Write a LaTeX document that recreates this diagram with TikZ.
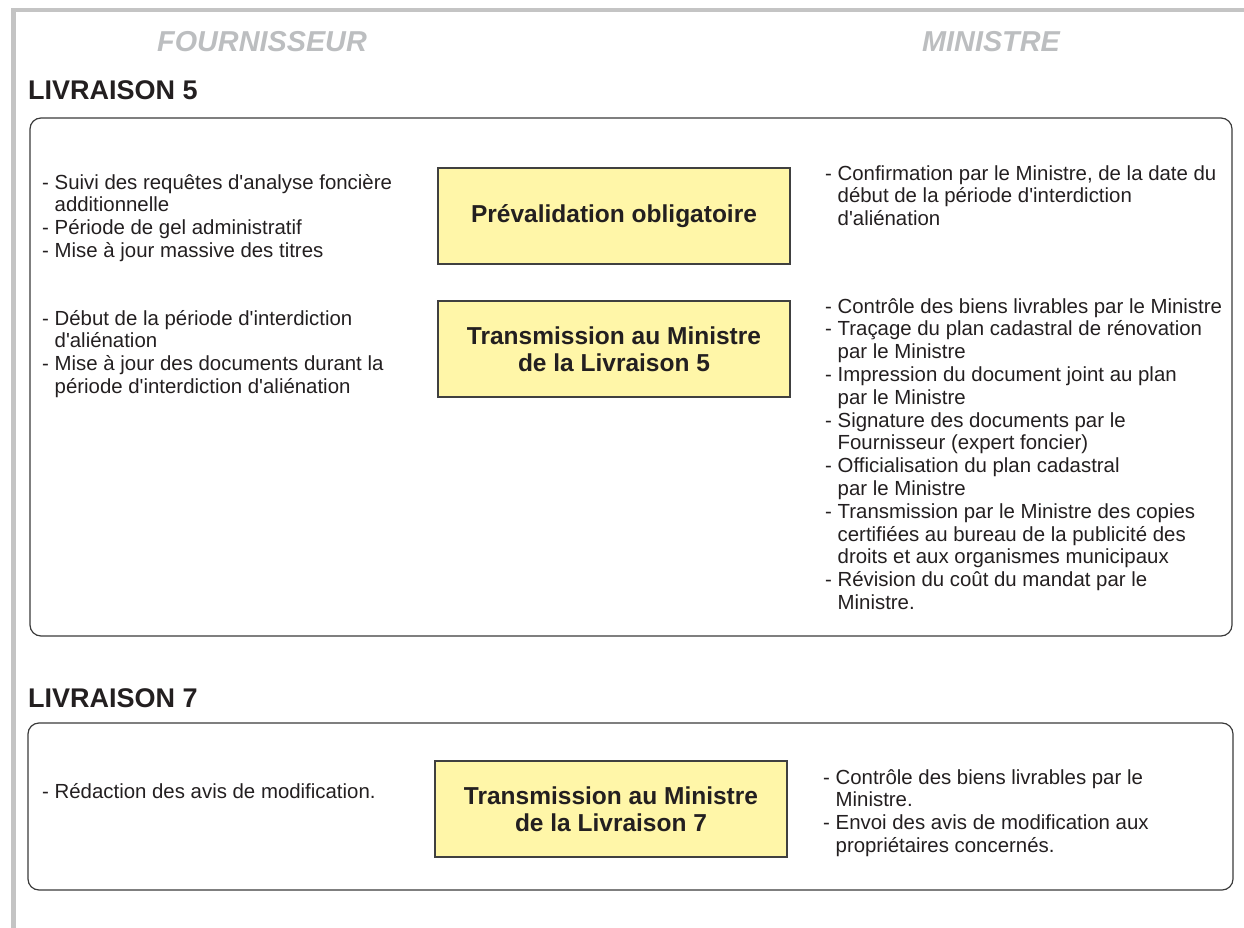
\documentclass[tikz,border=0pt]{standalone}
\usepackage{fontspec}
\newfontfamily\arial{Liberation Sans}
\definecolor{framegray}{RGB}{196,196,196}
\definecolor{headgray}{RGB}{188,190,192}
\definecolor{txt}{RGB}{35,31,32}
\definecolor{yfill}{RGB}{255,246,168}
\definecolor{ybord}{RGB}{64,64,64}
\definecolor{sbord}{RGB}{58,58,58}
\newcommand\ind{\hphantom{-}\ }
\begin{document}
\begin{tikzpicture}[x=1pt,y=-1pt,
  body/.style={font=\arial\fontsize{20.4}{22.8}\selectfont, align=left, anchor=north west, inner sep=0pt, text=txt},
  yel/.style={draw=ybord, line width=1.3pt, fill=yfill, minimum width=352pt, minimum height=96pt, inner sep=0pt,
    font=\arial\bfseries\fontsize{24.5}{27}\selectfont, align=center, text=txt},
  stage/.style={draw=sbord, rounded corners=11pt, line width=1.2pt, inner sep=0pt},
  head/.style={font=\arial\bfseries\itshape\fontsize{28.8}{30}\selectfont, text=headgray, anchor=base, inner sep=0pt},
  ltitle/.style={font=\arial\bfseries\fontsize{27}{28}\selectfont, text=txt, anchor=base west, inner sep=0pt}
]
\useasboundingbox (0,0) rectangle (1244,928);
% frame
\draw[framegray, line width=4.5pt] (13.5,928) -- (13.5,10) -- (1244,10);

% headers
\node[head] (four) at (262,52) {FOURNISSEUR};
\node[head] (mini) at (991,52) {MINISTRE};

% Livraison 5  (node tops = first baseline - 15.96)
\node[ltitle] (t5) at (28,100) {LIVRAISON 5};
\node[stage, minimum width=1202pt, minimum height=518pt] (L5) at (631,377) {};

\node[yel] (prev) at (614,216) {Prévalidation obligatoire};
\node[yel] (trans5) at (614,349) {Transmission au Ministre\\de la Livraison 5};

\node[body] (l1) at (42,173) {\strut- Suivi des requêtes d'analyse foncière\\
\ind additionnelle\\
- Période de gel administratif\\
- Mise à jour massive des titres};

\node[body] (r1) at (825,164) {\strut- Confirmation par le Ministre, de la date du\\
\ind début de la période d'interdiction\\
\ind d'aliénation};

\node[body] (l2) at (42,309) {\strut- Début de la période d'interdiction\\
\ind d'aliénation\\
- Mise à jour des documents durant la\\
\ind période d'interdiction d'aliénation};

\node[body] (r2) at (825,297) {\strut- Contrôle des biens livrables par le Ministre\\
- Traçage du plan cadastral de rénovation\\
\ind par le Ministre\\
- Impression du document joint au plan\\
\ind par le Ministre\\
- Signature des documents par le\\
\ind Fournisseur (expert foncier)\\
- Officialisation du plan cadastral\\
\ind par le Ministre\\
- Transmission par le Ministre des copies\\
\ind certifiées au bureau de la publicité des\\
\ind droits et aux organismes municipaux\\
- Révision du coût du mandat par le\\
\ind Ministre.};

% Livraison 7
\node[ltitle] (t7) at (28,707) {LIVRAISON 7};
\node[stage, minimum width=1205pt, minimum height=167pt] (L7) at (630.5,806.5) {};

\node[yel] (trans7) at (611,809) {Transmission au Ministre\\de la Livraison 7};

\node[body] (l7) at (42,782) {\strut- Rédaction des avis de modification.};

\node[body] (r7) at (823,768) {\strut- Contrôle des biens livrables par le\\
\ind Ministre.\\
- Envoi des avis de modification aux\\
\ind propriétaires concernés.};
\end{tikzpicture}
\end{document}
